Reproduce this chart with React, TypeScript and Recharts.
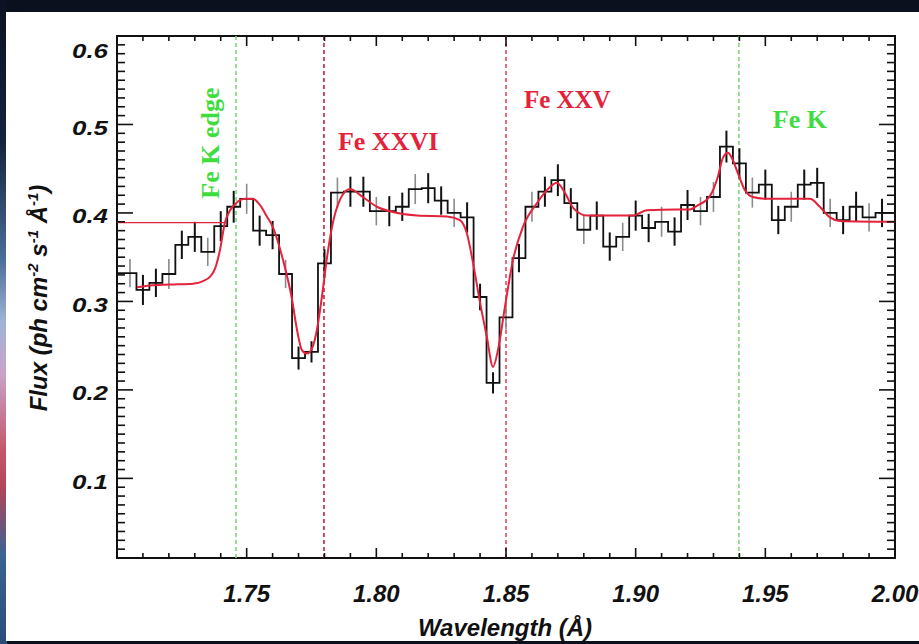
import {
  ErrorBar,
  Label,
  Line,
  LineChart,
  ReferenceArea,
  ReferenceDot,
  ReferenceLine,
  XAxis,
  YAxis,
} from "recharts";

// binned spectrum (bin centres in Å)
const wavelengths = [
  1.7, 1.705, 1.71, 1.715, 1.72, 1.725, 1.73, 1.735, 1.74, 1.745,
  1.75, 1.755, 1.76, 1.765, 1.77, 1.775, 1.78, 1.785, 1.79, 1.795,
  1.8, 1.805, 1.81, 1.815, 1.82, 1.825, 1.83, 1.835, 1.84, 1.845,
  1.85, 1.855, 1.86, 1.865, 1.87, 1.875, 1.88, 1.885, 1.89, 1.895,
  1.9, 1.905, 1.91, 1.915, 1.92, 1.925, 1.93, 1.935, 1.94, 1.945,
  1.95, 1.955, 1.96, 1.965, 1.97, 1.975, 1.98, 1.985, 1.99, 1.995, 2.0,
];
const fluxValues = [
  0.332, 0.332, 0.313, 0.321, 0.331, 0.364, 0.373, 0.356, 0.385, 0.407,
  0.416, 0.38, 0.375, 0.331, 0.236, 0.243, 0.343, 0.423, 0.424, 0.424,
  0.402, 0.402, 0.407, 0.427, 0.428, 0.414, 0.4, 0.395, 0.305, 0.208,
  0.282, 0.349, 0.407, 0.424, 0.437, 0.411, 0.381, 0.397, 0.362, 0.373,
  0.397, 0.383, 0.39, 0.379, 0.409, 0.402, 0.418, 0.475, 0.456, 0.423,
  0.432, 0.392, 0.407, 0.432, 0.434, 0.4, 0.392, 0.407, 0.395, 0.4, 0.4,
];
const fluxErrors = [
  0, 0.016, 0.017, 0.016, 0.017, 0.016, 0.017, 0.016, 0.017, 0.018,
  0.017, 0.017, 0.016, 0.016, 0.013, 0.012, 0.016, 0.017, 0.017, 0.017,
  0.016, 0.017, 0.016, 0.017, 0.017, 0.016, 0.016, 0.017, 0.015, 0.012,
  0.014, 0.016, 0.017, 0.017, 0.018, 0.017, 0.016, 0.016, 0.016, 0.016,
  0.017, 0.016, 0.017, 0.016, 0.017, 0.016, 0.017, 0.018, 0.017, 0.017,
  0.017, 0.016, 0.017, 0.017, 0.017, 0.016, 0.016, 0.017, 0.016, 0.016, 0.016,
];
// 1 = error bar drawn in grey
const greyBins = [
  0, 1, 0, 0, 1, 0, 0, 1, 0, 0,
  1, 0, 0, 1, 0, 0, 0, 1, 0, 0,
  1, 0, 0, 1, 0, 0, 1, 0, 0, 0,
  1, 0, 1, 0, 0, 0, 1, 0, 0, 1,
  0, 0, 1, 0, 0, 1, 1, 0, 0, 1,
  0, 0, 1, 0, 0, 1, 0, 0, 1, 0, 0,
];

// model curve
const modelWave = [
  1.7077, 1.7127, 1.7204, 1.7293, 1.7332, 1.7359, 1.7378, 1.7397, 1.7416, 1.7436,
  1.7463, 1.7493, 1.7524, 1.7551, 1.7578, 1.7601, 1.764, 1.7675, 1.7694, 1.7713,
  1.7732, 1.7752, 1.7771, 1.779, 1.781, 1.7829, 1.786, 1.7898, 1.7948, 1.8002,
  1.8064, 1.8157, 1.8272, 1.8322, 1.8349, 1.8372, 1.8399, 1.8426, 1.845, 1.8469,
  1.8496, 1.8527, 1.8565, 1.8619, 1.8669, 1.8696, 1.8727, 1.8758, 1.8812, 1.8989,
  1.9043, 1.9159, 1.9209, 1.9236, 1.9286, 1.9317, 1.9336, 1.9356, 1.9371, 1.9394,
  1.9421, 1.9452, 1.9506, 1.9672, 1.971, 1.9749, 1.9787, 2.0,
];
const modelFlux = [
  0.316, 0.318, 0.319, 0.32, 0.323, 0.328, 0.337, 0.358, 0.389, 0.403,
  0.412, 0.416, 0.416, 0.409, 0.396, 0.384, 0.347, 0.302, 0.268, 0.245,
  0.241, 0.247, 0.268, 0.305, 0.35, 0.384, 0.415, 0.427, 0.418, 0.407,
  0.401, 0.397, 0.396, 0.392, 0.377, 0.345, 0.3, 0.26, 0.226, 0.245,
  0.294, 0.347, 0.384, 0.411, 0.429, 0.434, 0.423, 0.406, 0.397, 0.397,
  0.403, 0.404, 0.404, 0.408, 0.419, 0.441, 0.462, 0.468, 0.462, 0.445,
  0.426, 0.418, 0.416, 0.416, 0.407, 0.395, 0.391, 0.39,
];
// alternative continuum below the edge
const edgeWave = [1.7, 1.7416];
const edgeFlux = [0.389, 0.389];

const lineMarks = [
  { name: "Fe K edge", wave: 1.7459, color: "#7ad87a" },
  { name: "Fe XXVI", wave: 1.7798, color: "#c8203a" },
  { name: "Fe XXV", wave: 1.85, color: "#e8485a" },
  { name: "Fe K", wave: 1.9398, color: "#7ad87a" },
];

const xMajor = [1.75, 1.8, 1.85, 1.9, 1.95, 2.0];
const yMajor = [0.1, 0.2, 0.3, 0.4, 0.5, 0.6];
const xTicks = Array.from({ length: 31 }, (_, i) => Number((1.7 + i * 0.01).toFixed(2)));
const yTicks = Array.from({ length: 60 }, (_, i) => Number((0.01 + i * 0.01).toFixed(2)));

const W = 919;
const H = 644;
const PLOT_LEFT = 117;
const PLOT_RIGHT = 895;
const PLOT_TOP = 36;
const PLOT_BOTTOM = 558;
const YAXIS_W = 60;
const XAXIS_H = 40;

const SANS = '"Liberation Sans", Arial, Helvetica, sans-serif';
const SERIF = '"Liberation Serif", "Times New Roman", serif';
const RED = "#e4223a";
const GREEN = "#3fdc3f";

const histData = wavelengths.map((w, i) => ({
  w,
  flux: fluxValues[i],
  errBlack: greyBins[i] ? 0 : fluxErrors[i],
  errGrey: greyBins[i] ? fluxErrors[i] : 0,
}));
const modelData = modelWave.map((w, i) => ({ w, model: modelFlux[i] }));
const edgeData = edgeWave.map((w, i) => ({ w, model: edgeFlux[i] }));

function XTick(props: any) {
  const { x, payload } = props;
  const v = Number(payload.value);
  const major = xMajor.some((m) => Math.abs(m - v) < 1e-6);
  const len = major ? 10 : 5;
  return (
    <g>
      <line x1={x} x2={x} y1={PLOT_BOTTOM} y2={PLOT_BOTTOM - len} stroke="#111" strokeWidth={1.6} />
      <line x1={x} x2={x} y1={PLOT_TOP} y2={PLOT_TOP + len} stroke="#111" strokeWidth={1.6} />
      {major && (
        <text
          x={x}
          y={PLOT_BOTTOM + 44}
          textAnchor="middle"
          fontFamily={SANS}
          fontWeight="bold"
          fontStyle="italic"
          fontSize={24}
          fill="#111"
        >
          {v.toFixed(2)}
        </text>
      )}
    </g>
  );
}

function YTick(props: any) {
  const { y, payload } = props;
  const v = Number(payload.value);
  const major = yMajor.some((m) => Math.abs(m - v) < 1e-6);
  const len = major ? 16 : 8;
  return (
    <g>
      <line x1={PLOT_LEFT} x2={PLOT_LEFT + len} y1={y} y2={y} stroke="#111" strokeWidth={1.6} />
      <line x1={PLOT_RIGHT} x2={PLOT_RIGHT - len} y1={y} y2={y} stroke="#111" strokeWidth={1.6} />
      {major && (
        <text
          x={PLOT_LEFT - 9}
          y={y + (v > 0.55 ? 21.5 : 10.5)}
          textAnchor="end"
          fontFamily={SANS}
          fontWeight="bold"
          fontStyle="italic"
          fontSize={21}
          textLength={36}
          lengthAdjust="spacingAndGlyphs"
          fill="#111"
        >
          {v.toFixed(1)}
        </text>
      )}
    </g>
  );
}

function annotation(text: string, color: string, size: number, vertical = false) {
  return (props: any) => {
    const { x, y } = props.viewBox;
    return (
      <text
        x={x}
        y={y}
        transform={vertical ? `rotate(-90 ${x} ${y})` : undefined}
        textAnchor={vertical ? "middle" : "start"}
        fontFamily={SERIF}
        fontWeight="bold"
        fontSize={size}
        fill={color}
      >
        {text}
      </text>
    );
  };
}

function YTitle() {
  const x = 47;
  const y = 298;
  return (
    <text
      x={x}
      y={y}
      transform={`rotate(-90 ${x} ${y})`}
      textAnchor="middle"
      fontFamily={SANS}
      fontWeight="bold"
      fontStyle="italic"
      fontSize={24}
      fill="#111"
    >
      Flux (ph cm
      <tspan dy={-9} fontSize={15}>-2</tspan>
      <tspan dy={9}> s</tspan>
      <tspan dy={-9} fontSize={15}>-1</tspan>
      <tspan dy={9}> Å</tspan>
      <tspan dy={-9} fontSize={15}>-1</tspan>
      <tspan dy={9}>)</tspan>
    </text>
  );
}

function XTitle() {
  return (
    <text
      x={505}
      y={636}
      textAnchor="middle"
      fontFamily={SANS}
      fontWeight="bold"
      fontStyle="italic"
      fontSize={24}
      fill="#111"
    >
      Wavelength (Å)
    </text>
  );
}

export default function App() {
  return (
    <div
      style={{
        position: "absolute",
        left: 0,
        top: 0,
        width: W,
        height: H,
        overflow: "hidden",
        background: "#0a101d",
      }}
    >
      <div
        style={{
          position: "absolute",
          left: 0,
          top: 0,
          width: 7,
          height: H,
          background:
            "linear-gradient(#0b1222 0%, #14233d 22%, #4a6c98 40%, #9fb3d6 50%, #c9a3c8 58%, #c4566a 70%, #b0455a 76%, #3c6393 86%, #2b4c78 100%)",
        }}
      />
      <div
        style={{
          position: "absolute",
          left: 6,
          top: 12,
          width: W - 6,
          height: 629,
          background: "#ffffff",
        }}
      />
      <div style={{ position: "absolute", left: 0, top: 0 }}>
        <LineChart
          width={W}
          height={H}
          data={histData}
          margin={{
            top: PLOT_TOP,
            right: W - PLOT_RIGHT,
            bottom: H - PLOT_BOTTOM - XAXIS_H,
            left: PLOT_LEFT - YAXIS_W,
          }}
        >
          <XAxis
            dataKey="w"
            type="number"
            domain={[1.7, 2.0]}
            allowDataOverflow
            ticks={xTicks}
            interval={0}
            tick={<XTick />}
            tickLine={false}
            axisLine={false}
            height={XAXIS_H}
          >
            <Label content={() => <XTitle />} />
          </XAxis>
          <YAxis
            type="number"
            domain={[0.01, 0.6]}
            allowDataOverflow
            ticks={yTicks}
            interval={0}
            tick={<YTick />}
            tickLine={false}
            axisLine={false}
            width={YAXIS_W}
          >
            <Label content={() => <YTitle />} />
          </YAxis>

          {lineMarks.map((m) => (
            <ReferenceLine
              key={m.name}
              x={m.wave}
              stroke={m.color}
              strokeWidth={1.6}
              strokeDasharray="4 3"
            />
          ))}

          <Line
            dataKey={(d: any) => d.flux}
            name="grey errors"
            stroke="none"
            dot={false}
            activeDot={false}
            isAnimationActive={false}
          >
            <ErrorBar dataKey="errGrey" width={0} stroke="#8a8a8a" strokeWidth={1.6} isAnimationActive={false} />
          </Line>
          <Line
            dataKey="flux"
            type="step"
            stroke="#111"
            strokeWidth={1.8}
            dot={false}
            activeDot={false}
            isAnimationActive={false}
          >
            <ErrorBar dataKey="errBlack" width={0} stroke="#111" strokeWidth={2} isAnimationActive={false} />
          </Line>

          <Line
            data={edgeData}
            dataKey="model"
            type="linear"
            stroke={RED}
            strokeWidth={1.3}
            dot={false}
            activeDot={false}
            isAnimationActive={false}
          />
          <Line
            data={modelData}
            dataKey="model"
            type="monotone"
            stroke={RED}
            strokeWidth={2}
            dot={false}
            activeDot={false}
            isAnimationActive={false}
          />

          <ReferenceDot x={1.7393} y={0.479} r={0} fill="none" stroke="none" label={annotation("Fe K edge", GREEN, 26, true)} />
          <ReferenceDot x={1.7852} y={0.4712} r={0} fill="none" stroke="none" label={annotation("Fe XXVI", RED, 26)} />
          <ReferenceDot x={1.8569} y={0.5186} r={0} fill="none" stroke="none" label={annotation("Fe XXV", RED, 25)} />
          <ReferenceDot x={1.9529} y={0.496} r={0} fill="none" stroke="none" label={annotation("Fe K", GREEN, 26)} />

          <ReferenceArea x1={1.7} x2={2.0} y1={0.01} y2={0.6} fill="none" fillOpacity={0} stroke="#111" strokeWidth={2} />
        </LineChart>
      </div>
    </div>
  );
}
